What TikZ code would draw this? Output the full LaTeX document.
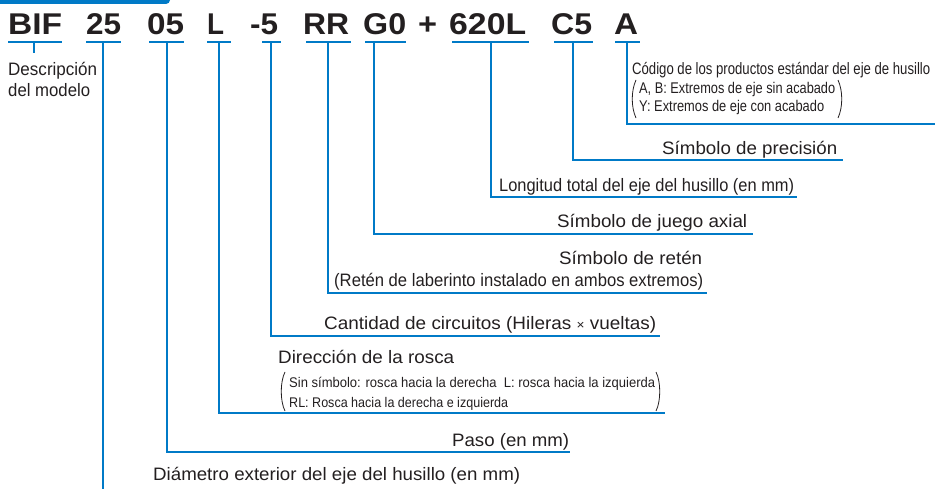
\documentclass[tikz,border=0pt]{standalone}
\usepackage{fontspec}
\setmainfont{Liberation Sans}
\usepackage{graphicx}
\definecolor{lineblue}{RGB}{0,122,199}
\definecolor{ink}{RGB}{35,31,32}
\newcommand\fitw[2]{\resizebox{#1pt}{\height}{#2}}
\begin{document}
\begin{tikzpicture}[x=1pt,y=-1pt,
  conn/.style={draw=lineblue, line width=2pt},
  code/.style={inner sep=0pt, anchor=base west, text=ink, font=\fontsize{30}{30}\selectfont\bfseries},
  lbl/.style={inner sep=0pt, anchor=base west, text=ink, font=\fontsize{18}{20}\selectfont},
  smalllbl/.style={inner sep=0pt, anchor=base west, text=ink, font=\fontsize{14}{16}\selectfont},
  paren/.style={draw=ink, line width=0.8pt}]
\useasboundingbox (0,0) rectangle (935,489);
% top tab
\begin{scope}
  \clip (0,0) rectangle (935,489);
  \fill[lineblue, rounded corners=4pt] (-10,-10) rectangle (170,4);
\end{scope}
% code
\node[code] (kBIF) at (8,35) {\fitw{54}{BIF}};
\node[code] (k25) at (86,35) {\fitw{35}{25}};
\node[code] (k05) at (147,35) {\fitw{37}{05}};
\node[code] (kL) at (207,35) {\fitw{17}{L}};
\node[code] (k5) at (250,35) {\fitw{28}{-5}};
\node[code] (kRR) at (303,35) {\fitw{46}{RR}};
\node[code] (kG0) at (363,35) {\fitw{43}{G0}};
\node[code] (kplus) at (418,35) {\fitw{19}{+}};
\node[code] (k620L) at (449,35) {\fitw{77}{620L}};
\node[code] (kC5) at (551,35) {\fitw{41}{C5}};
\node[code] (kA) at (614,35) {\fitw{24}{A}};
% underlines
\foreach \a/\b in {8/62, 86/121, 149/184, 207/231, 262/281, 306/351, 365/406, 452/529, 554/593, 615/640}
  \draw[conn] (\a,42) -- (\b,42);
% labels
\node[lbl] (desc1) at (8,76) {\fitw{89}{Descripción}};
\node[lbl] (desc2) at (8,97) {\fitw{82}{del modelo}};
\node[smalllbl, font=\fontsize{16.5}{18}\selectfont] (cod) at (632,75) {\fitw{298}{Código de los productos estándar del eje de husillo}};
\node[smalllbl, font=\fontsize{15.5}{17}\selectfont] (codAB) at (639,94) {\fitw{196}{A, B: Extremos de eje sin acabado}};
\node[smalllbl, font=\fontsize{15.5}{17}\selectfont] (codY) at (639,112) {\fitw{185}{Y: Extremos de eje con acabado}};
\node[lbl] (prec) at (662,155) {\fitw{175}{Símbolo de precisión}};
\node[lbl] (longi) at (499,192) {\fitw{295}{Longitud total del eje del husillo (en mm)}};
\node[lbl] (juego) at (557,228) {\fitw{190}{Símbolo de juego axial}};
\node[lbl] (reten) at (559,265) {\fitw{143}{Símbolo de retén}};
\node[lbl] (reten2) at (334,287) {\fitw{369}{(Retén de laberinto instalado en ambos extremos)}};
\node[lbl] (cant) at (324,330) {\fitw{332}{Cantidad de circuitos (Hileras {\fontsize{13}{14}\selectfont×} vueltas)}};
\node[lbl] (dir) at (278,363) {\fitw{176}{Dirección de la rosca}};
\node[smalllbl] (dir1) at (289,387) {\fitw{366}{Sin símbolo: rosca hacia la derecha~~L: rosca hacia la izquierda}};
\node[smalllbl] (dir2) at (289,407) {\fitw{219}{RL: Rosca hacia la derecha e izquierda}};
\node[lbl] (paso) at (452,446) {\fitw{117}{Paso (en mm)}};
\node[lbl] (diam) at (153,480) {\fitw{367}{Diámetro exterior del eje del husillo (en mm)}};
% parentheses
\draw[paren] (636,80) .. controls (631,91) and (631,107) .. (636,118);
\draw[paren] (838,80) .. controls (843,91) and (843,107) .. (838,118);
\draw[paren] (285,372) .. controls (280,382) and (280,401) .. (285,411);
\draw[paren] (656,372) .. controls (661,382) and (661,401) .. (656,411);
% connectors
\coordinate (eA) at (935,124);
\coordinate (eC5) at (843,160);
\coordinate (e620L) at (797,197);
\coordinate (eG0) at (753,234);
\coordinate (eRR) at (707,293);
\coordinate (e5) at (660,336);
\coordinate (eL) at (665,413);
\coordinate (e05) at (570,452);
\coordinate (e25) at (103,489);
\coordinate (eBIF) at (34,53);
\draw[conn] (34,42) -- (eBIF);
\draw[conn] (103,42) -- (e25);
\draw[conn] (167,42) |- (e05);
\draw[conn] (219,42) |- (eL);
\draw[conn] (271,42) |- (e5);
\draw[conn] (328,42) |- (eRR);
\draw[conn] (374,42) |- (eG0);
\draw[conn] (491,42) |- (e620L);
\draw[conn] (573,42) |- (eC5);
\draw[conn] (627,42) |- (eA);
\end{tikzpicture}
\end{document}
